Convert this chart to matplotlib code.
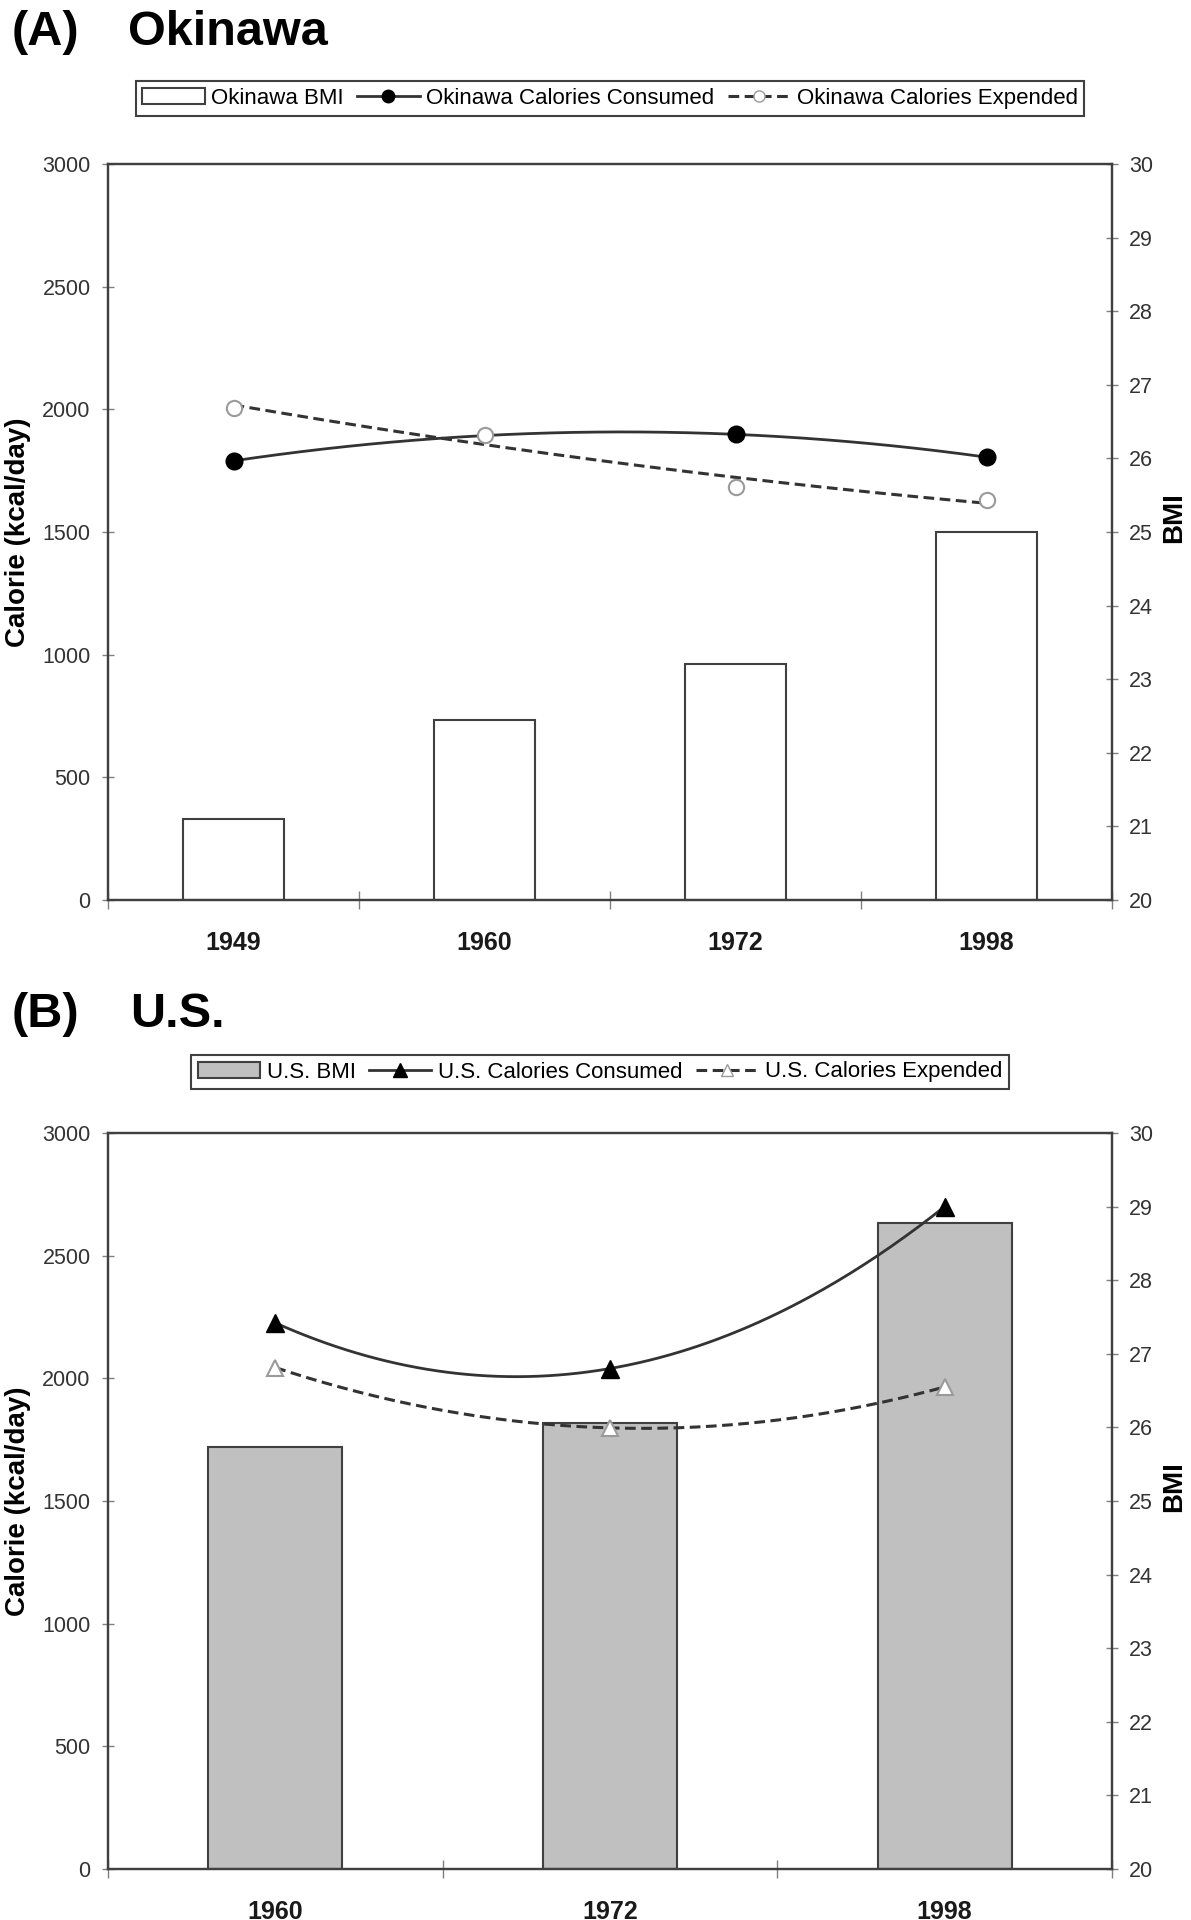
''' Okinawa vs U.S. calories and BMI '''

import matplotlib
matplotlib.use('Agg')
import matplotlib.pyplot as plt
import numpy as np
from matplotlib.lines import Line2D
from matplotlib.patches import Patch

plt.rcParams['font.family'] = ['Liberation Sans', 'DejaVu Sans']

ok_years = ['1949', '1960', '1972', '1998']
ok_bmi = [21.1, 22.45, 23.2, 25.0]
ok_consumed = [1790, np.nan, 1898, 1805]
ok_expended = [2005, 1895, 1684, 1630]

us_years = ['1960', '1972', '1998']
us_bmi = [25.73, 26.06, 28.78]
us_consumed = [2226, 2040, 2700]
us_expended = [2044, 1798, 1965]

cal_ticks = [0, 500, 1000, 1500, 2000, 2500, 3000]
bmi_ticks = list(range(20, 31))

W, H = 1191, 1920
fig = plt.figure(figsize=(W / 100, H / 100), dpi=100)

EDGE = '#404040'
LINE = '#333333'


def trend(x, y):
    # Excel-style 2nd order polynomial trendline over the points present
    y = np.asarray(y, dtype=float)
    m = ~np.isnan(y)
    c = np.polyfit(x[m], y[m], 2)
    xs = np.linspace(x[m][0], x[m][-1], 200)
    return xs, np.polyval(c, xs)


def panel(top_px, tag, name, years, bmi, consumed, expended,
          bar_color, marker, ms, region):
    bottom_px = top_px + 736
    ax = fig.add_axes([108 / W, 1 - bottom_px / H, 1004 / W, 736 / H])
    ax2 = ax.twinx()
    ax.set_zorder(ax2.get_zorder() + 1)
    ax.patch.set_visible(False)

    x = np.arange(len(years))
    heights = np.array(bmi) - 20
    ax2.bar(x, heights, bottom=20, width=0.4, color=bar_color,
            edgecolor=EDGE, linewidth=1.5)

    xs, ys = trend(x, consumed)
    ax.plot(xs, ys, color=LINE, lw=2)
    xs, ys = trend(x, expended)
    ax.plot(xs, ys, color=LINE, lw=2.2, linestyle=(0, (3.5, 1.8)))
    ax.plot(x, consumed, linestyle='none', marker=marker, ms=ms,
            mfc='black', mec='black')
    ax.plot(x, expended, linestyle='none', marker=marker, ms=ms - 1,
            mfc='white', mec='#9a9a9a', mew=1.5)

    ax.set_xlim(-0.5, len(years) - 0.5)
    ax.set_ylim(0, 3000)
    ax2.set_ylim(20, 30)
    ax.set_yticks(cal_ticks)
    ax2.set_yticks(bmi_ticks)
    ax.set_xticks(x)
    ax.set_xticklabels(years, fontsize=18, fontweight='bold')
    ax.set_xticks(np.arange(len(years) + 1) - 0.5, minor=True)
    ax.tick_params(axis='x', which='major', length=0, pad=22,
                   labelcolor='#1a1a1a')
    ax.tick_params(axis='x', which='minor', direction='inout', length=13,
                   width=1, color='#808080')
    ax.tick_params(axis='y', direction='inout', length=9, width=1,
                   color='#808080', labelsize=15.5, pad=8,
                   labelcolor='#333333')
    ax2.tick_params(axis='y', direction='inout', length=9, width=1,
                    color='#808080', labelsize=15.5, pad=8,
                    labelcolor='#333333')
    for a in (ax, ax2):
        for s in a.spines.values():
            s.set_color(EDGE)
            s.set_linewidth(1.6)

    ax.set_ylabel('Calorie (kcal/day)', fontsize=20, fontweight='bold')
    ax.yaxis.set_label_coords(-0.077, 0.5)
    ax2.set_ylabel('BMI', fontsize=20, fontweight='bold')
    ax2.yaxis.set_label_coords(1.049, 0.52)

    # panel title
    fig.text(12 / W, 1 - tag[1] / H, tag[0], fontsize=35, fontweight='bold',
             va='baseline')
    fig.text(name[1] / W, 1 - tag[1] / H, name[0], fontsize=35,
             fontweight='bold', va='baseline')

    handles = [
        Patch(facecolor=bar_color, edgecolor=EDGE, linewidth=1.5),
        Line2D([], [], color=LINE, lw=2, marker=marker, ms=ms - 3,
               mfc='black', mec='black'),
        Line2D([], [], color=LINE, lw=2.2, linestyle=(0, (3.5, 1.8)),
               marker=marker, ms=ms - 4, mfc='white', mec='#9a9a9a'),
    ]
    labels = [region + ' BMI', region + ' Calories Consumed',
              region + ' Calories Expended']
    leg = fig.legend(handles, labels, loc='center',
                     bbox_to_anchor=(name[2] / W, 1 - name[3] / H), ncol=3,
                     fontsize=16, frameon=True, fancybox=False,
                     edgecolor=EDGE, framealpha=1, handlelength=2.8,
                     handletextpad=0.3, columnspacing=0.6, borderpad=0.3)
    leg.get_frame().set_linewidth(1.5)
    return ax, ax2


panel(164, ('(A)', 45), ('Okinawa', 128, 610, 98.5), ok_years, ok_bmi,
      ok_consumed, ok_expended, 'white', 'o', 12, 'Okinawa')
panel(1133, ('(B)', 1027), ('U.S.', 130, 600, 1072), us_years, us_bmi,
      us_consumed, us_expended, '#c0c0c0', '^', 13, 'U.S.')

fig.savefig('out.png', dpi=100, facecolor='white')
